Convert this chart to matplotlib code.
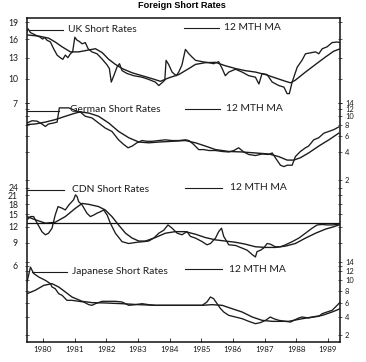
"""
Foreign short rates, 1980-1989: UK, German, Canadian and Japanese
short rates with their 12 month moving averages, stacked in one frame.
"""

import numpy as np
import matplotlib
matplotlib.use('Agg')
import matplotlib.pyplot as plt
from matplotlib.lines import Line2D

# ---------------- data ----------------
uk_x = [1980.00, 1980.03, 1980.11, 1980.26, 1980.42, 1980.49, 1980.56, 1980.63, 1980.74, 1980.84,
        1980.95, 1981.05, 1981.13, 1981.21, 1981.29, 1981.37, 1981.44, 1981.51, 1981.58, 1981.65,
        1981.74, 1981.84, 1981.93, 1982.05, 1982.21, 1982.37, 1982.53, 1982.60, 1982.66, 1982.74,
        1982.84, 1982.92, 1983.00, 1983.16, 1983.37, 1983.63, 1983.84, 1984.05, 1984.16, 1984.26,
        1984.35, 1984.39, 1984.47, 1984.58, 1984.71, 1984.79, 1984.89, 1985.00, 1985.11, 1985.21,
        1985.32, 1985.53, 1985.74, 1985.89, 1986.05, 1986.16, 1986.26, 1986.37, 1986.58, 1986.79,
        1987.00, 1987.21, 1987.32, 1987.42, 1987.58, 1987.74, 1987.95, 1988.11, 1988.21, 1988.28,
        1988.37, 1988.53, 1988.68, 1988.79, 1988.95, 1989.11, 1989.21, 1989.32, 1989.47, 1989.63,
        1989.79, 1989.89]
uk_rate = [17.3, 17.8, 17.1, 16.7, 16.3, 16.0, 16.25, 15.8, 15.5, 14.4,
           13.4, 13.0, 12.75, 13.4, 13.0, 13.6, 13.9, 16.3, 15.8, 15.6,
           15.2, 15.4, 14.4, 13.9, 13.6, 12.8, 11.9, 11.4, 9.55, 10.4,
           11.6, 12.1, 11.1, 10.7, 10.4, 10.2, 9.9, 9.55, 9.1, 9.45,
           9.8, 12.6, 12.0, 10.9, 10.4, 10.9, 11.9, 14.3, 13.6, 13.1,
           12.6, 12.4, 12.25, 12.1, 12.4, 11.4, 10.4, 10.9, 11.3, 10.9,
           10.4, 10.2, 9.3, 10.7, 10.55, 9.55, 9.1, 8.9, 8.1, 8.1,
           9.55, 11.6, 12.6, 13.6, 13.75, 13.9, 13.6, 14.4, 14.7, 15.4,
           15.5, 15.4]
uk_ma_x = [1980.00, 1980.37, 1980.68, 1980.89, 1981.11, 1981.37, 1981.63, 1981.95, 1982.16, 1982.37,
           1982.58, 1982.79, 1983.00, 1983.32, 1983.63, 1983.95, 1984.21, 1984.47, 1984.79, 1985.11,
           1985.32, 1985.63, 1985.95, 1986.26, 1986.58, 1986.89, 1987.21, 1987.53, 1987.84, 1988.16,
           1988.32, 1988.47, 1988.79, 1989.11, 1989.42, 1989.68, 1989.89]
uk_ma = [16.7, 16.5, 16.15, 15.5, 14.7, 13.9, 13.9, 14.2, 14.4, 13.8,
         12.75, 12.0, 11.4, 10.8, 10.4, 10.0, 9.65, 10.1, 10.55, 11.4,
         12.0, 12.25, 12.3, 11.8, 11.4, 11.1, 10.9, 10.55, 10.1, 9.65,
         9.45, 9.8, 10.9, 12.0, 13.1, 14.0, 14.4]

de_x = [1980.00, 1980.16, 1980.32, 1980.47, 1980.58, 1980.68, 1980.84, 1980.95, 1981.02, 1981.32,
        1981.58, 1981.68, 1981.84, 1982.05, 1982.26, 1982.47, 1982.68, 1982.89, 1983.05, 1983.19,
        1983.32, 1983.47, 1983.63, 1983.79, 1983.95, 1984.16, 1984.37, 1984.58, 1984.79, 1985.00,
        1985.11, 1985.26, 1985.42, 1985.58, 1985.74, 1985.95, 1986.16, 1986.37, 1986.53, 1986.68,
        1986.84, 1987.00, 1987.21, 1987.42, 1987.63, 1987.74, 1987.84, 1988.00, 1988.11, 1988.21,
        1988.37, 1988.47, 1988.63, 1988.79, 1988.89, 1989.05, 1989.21, 1989.37, 1989.53, 1989.68,
        1989.84]
de_rate = [8.4, 8.9, 8.8, 8.2, 7.7, 8.2, 8.4, 8.6, 12.3, 12.3,
           11.3, 11.1, 9.95, 9.55, 8.4, 7.4, 6.8, 5.5, 4.9, 4.5,
           4.7, 5.1, 5.4, 5.3, 5.3, 5.4, 5.5, 5.4, 5.4, 5.5,
           5.4, 4.9, 4.3, 4.3, 4.2, 4.2, 4.1, 4.05, 4.2, 4.5,
           4.05, 3.8, 3.7, 3.85, 3.8, 3.95, 3.5, 2.9, 2.8, 2.9,
           2.9, 3.6, 4.1, 4.5, 4.7, 5.5, 5.8, 6.5, 6.8, 7.1,
           7.6]
de_ma_x = [1980.00, 1980.26, 1980.58, 1980.89, 1981.21, 1981.53, 1981.68, 1981.95, 1982.26, 1982.58,
           1982.89, 1983.21, 1983.53, 1983.84, 1984.16, 1984.58, 1985.00, 1985.32, 1985.63, 1985.95,
           1986.37, 1986.79, 1987.21, 1987.63, 1987.95, 1988.21, 1988.42, 1988.63, 1988.89, 1989.21,
           1989.53, 1989.84]
de_ma = [8.07, 8.2, 8.6, 9.15, 9.95, 10.8, 11.1, 10.8, 9.95, 8.4,
         6.8, 5.8, 5.2, 5.1, 5.2, 5.3, 5.4, 5.1, 4.7, 4.3,
         4.1, 4.05, 3.95, 3.85, 3.6, 3.3, 3.3, 3.5, 3.95, 4.7,
         5.5, 6.5]

cdn_x = [1980.00, 1980.11, 1980.21, 1980.32, 1980.47, 1980.58, 1980.68, 1980.79, 1980.89, 1980.98,
         1981.11, 1981.21, 1981.32, 1981.47, 1981.53, 1981.58, 1981.63, 1981.74, 1981.89, 1982.00,
         1982.11, 1982.21, 1982.32, 1982.42, 1982.53, 1982.63, 1982.79, 1983.00, 1983.21, 1983.47,
         1983.68, 1983.84, 1984.00, 1984.16, 1984.32, 1984.45, 1984.58, 1984.74, 1984.89, 1985.05,
         1985.16, 1985.32, 1985.53, 1985.68, 1985.79, 1985.95, 1986.05, 1986.14, 1986.21, 1986.37,
         1986.58, 1986.79, 1986.95, 1987.11, 1987.21, 1987.26, 1987.37, 1987.47, 1987.58, 1987.68,
         1987.84, 1988.00, 1988.16, 1988.37, 1988.58, 1988.79, 1989.00, 1989.16, 1989.32, 1989.47,
         1989.63, 1989.79, 1989.89]
cdn_rate = [13.6, 14.4, 14.4, 12.8, 11.0, 10.4, 10.7, 11.7, 14.8, 17.2,
            16.7, 16.2, 17.7, 19.4, 21.2, 20.6, 18.8, 17.7, 15.3, 14.4,
            14.8, 15.3, 15.7, 16.2, 14.8, 12.8, 10.7, 9.2, 8.9, 9.1,
            9.2, 9.3, 9.8, 10.7, 11.3, 12.4, 11.7, 10.7, 10.4, 11.0,
            10.1, 9.8, 9.2, 8.7, 8.9, 9.8, 11.0, 11.7, 10.1, 8.7,
            8.6, 8.2, 7.9, 7.3, 7.0, 7.7, 7.9, 8.2, 8.9, 8.8,
            8.4, 8.4, 8.7, 9.2, 9.8, 10.7, 11.7, 12.4, 12.5, 12.4,
            12.4, 12.5, 12.8]
cdn_ma_x = [1980.00, 1980.26, 1980.58, 1980.89, 1981.21, 1981.53, 1981.74, 1981.95, 1982.26, 1982.47,
            1982.68, 1982.89, 1983.11, 1983.32, 1983.53, 1983.74, 1984.05, 1984.37, 1984.68, 1985.00,
            1985.32, 1985.63, 1985.95, 1986.26, 1986.58, 1986.89, 1987.21, 1987.53, 1987.84, 1988.16,
            1988.47, 1988.79, 1989.11, 1989.42, 1989.68, 1989.89]
cdn_ma = [14.4, 13.6, 12.8, 13.0, 14.4, 16.7, 18.2, 17.9, 17.2, 16.2,
          14.4, 12.4, 10.7, 9.8, 9.3, 9.3, 9.9, 10.7, 11.0, 11.0,
          10.5, 9.9, 9.5, 9.3, 9.1, 8.8, 8.4, 8.3, 8.3, 8.5,
          8.9, 9.8, 10.7, 11.5, 12.0, 12.5]
cdn_ref = 12.85  # the long horizontal rule across the CDN panel

jp_x = [1980.00, 1980.11, 1980.21, 1980.37, 1980.58, 1980.74, 1980.79, 1980.89, 1981.00, 1981.11,
        1981.26, 1981.42, 1981.63, 1981.79, 1981.95, 1982.05, 1982.16, 1982.37, 1982.58, 1982.79,
        1983.00, 1983.11, 1983.21, 1983.42, 1983.63, 1983.84, 1984.05, 1984.58, 1985.11, 1985.53,
        1985.68, 1985.79, 1985.89, 1986.00, 1986.11, 1986.21, 1986.37, 1986.58, 1986.79, 1987.00,
        1987.21, 1987.37, 1987.53, 1987.68, 1987.79, 1987.95, 1988.16, 1988.32, 1988.42, 1988.58,
        1988.68, 1988.89, 1989.05, 1989.21, 1989.32, 1989.47, 1989.63, 1989.79, 1989.89]
jp_rate = [9.64, 12.8, 11.4, 10.65, 9.97, 9.31, 8.68, 8.37, 7.47, 7.18,
           6.36, 6.36, 6.2, 6.09, 5.68, 5.58, 5.83, 6.2, 6.2, 6.2,
           6.09, 5.83, 5.58, 5.68, 5.83, 5.68, 5.58, 5.58, 5.58, 5.58,
           6.09, 6.9, 6.63, 5.83, 5.09, 4.62, 4.17, 3.96, 3.75, 3.43,
           3.16, 3.28, 3.55, 3.96, 3.75, 3.55, 3.43, 3.35, 3.55, 3.84,
           3.96, 3.84, 3.96, 4.05, 4.4, 4.62, 4.85, 5.58, 6.09]
jp_ma_x = [1980.00, 1980.26, 1980.53, 1980.79, 1981.00, 1981.21, 1981.42, 1981.74, 1982.05, 1982.47,
           1983.00, 1983.53, 1984.05, 1985.11, 1985.53, 1985.84, 1986.16, 1986.47, 1986.79, 1987.11,
           1987.42, 1987.74, 1988.26, 1988.58, 1989.00, 1989.32, 1989.63, 1989.89]
jp_ma = [7.47, 8.07, 8.99, 9.31, 8.68, 7.77, 6.9, 6.2, 5.99, 5.94,
         5.83, 5.68, 5.58, 5.58, 5.58, 5.68, 5.58, 5.09, 4.62, 3.96,
         3.55, 3.43, 3.43, 3.67, 3.96, 4.17, 4.62, 5.09]

years = list(range(1980, 1990))
uk_ticks = [19, 16, 13, 10, 7]
de_ticks = [14, 12, 10, 8, 6, 4, 2]
cdn_ticks = [24, 21, 18, 15, 12, 9, 6]
jp_ticks = [14, 12, 10, 8, 6, 4, 2]

# ---------------- layout (pixels of the 366x362 picture) ----------------
W, H = 366, 362
FL, FR, FT, FB = 27, 340, 18, 342
X0, X1 = 1980.0, 1989.88
INK = '#1c1c1c'

fig = plt.figure(figsize=(W / 100, H / 100), dpi=100)
fig.patch.set_facecolor('white')


def rect(top, bottom):
    return [FL / W, 1 - bottom / H, (FR - FL) / W, (bottom - top) / H]


# outer frame with the year axis
frame = fig.add_axes(rect(FT, FB))
frame.set_xlim(X0, X1)
frame.set_xticks([y + 0.5 for y in years], labels=[str(y) for y in years])
frame.set_yticks([])
frame.tick_params(axis='x', direction='in', length=3, width=0.6, labelsize=5.8, pad=3, colors=INK)
for s in frame.spines.values():
    s.set_linewidth(1.1)
    s.set_color('#111111')
for t in frame.get_xticklabels():
    t.set_family('Lato')


def panel(top, bottom, scale, ylim, ticks, side, x, y, ma_x, ma_y):
    ax = fig.add_axes(rect(top, bottom))
    ax.patch.set_alpha(0)
    for s in ax.spines.values():
        s.set_visible(False)
    if scale == 'sqrt':
        ax.set_yscale('function', functions=(np.sqrt, np.square))
    else:
        ax.set_yscale('log')
    ax.plot(x, y, color=INK, lw=0.95, solid_joinstyle='round')
    ax.plot(ma_x, ma_y, color=INK, lw=1.0, solid_joinstyle='round')
    ax.set_xlim(X0, X1)
    ax.set_ylim(min(ylim), max(ylim))
    ax.set_xticks([])
    ax.set_yticks(ticks, labels=[str(t) for t in ticks])
    ax.minorticks_off()
    ax.tick_params(axis='y', left=True, right=True, direction='inout', length=3, width=0.5,
                   labelleft=(side == 'left'), labelright=(side == 'right'),
                   labelsize=6.2 if side == 'left' else 5.4, pad=5 if side == 'left' else 2,
                   colors=INK)
    for t in ax.get_yticklabels():
        t.set_family('Lato')
    return ax


panel(FT, 105, 'sqrt', (19.75, 6.79), uk_ticks, 'left', uk_x, uk_rate, uk_ma_x, uk_ma)
panel(100, 182, 'log', (15.0, 1.90), de_ticks, 'right', de_x, de_rate, de_ma_x, de_ma)
cdn = panel(183, 268, 'log', (26.2, 5.75), cdn_ticks, 'left', cdn_x, cdn_rate, cdn_ma_x, cdn_ma)
cdn.axhline(cdn_ref, color='#111111', lw=0.9)
panel(258, FB, 'sqrt', (14.97, 1.426), jp_ticks, 'right', jp_x, jp_rate, jp_ma_x, jp_ma)

# in-chart legend labels: (line x0, line x1, line y, text x, text y, text)
legend_items = [
    (29, 63, 29.5, 68.5, 29.5, 'UK Short Rates'),
    (184, 219, 28, 224, 28, '12 MTH MA'),
    (27, 59, 110.5, 70, 109.5, 'German Short Rates'),
    (185, 220, 108.5, 226.5, 108.5, '12 MTH MA'),
    (27, 64, 190, 72, 190, 'CDN Short Rates'),
    (185, 222, 188, 230, 188, '12 MTH MA'),
    (32, 67, 272, 72, 272, 'Japanese Short Rates'),
    (185, 222, 269, 229, 269, '12 MTH MA'),
]
for lx0, lx1, ly, tx, ty, label in legend_items:
    fig.add_artist(Line2D([lx0 / W, lx1 / W], [1 - ly / H, 1 - ly / H],
                          transform=fig.transFigure, color=INK, lw=0.8))
    fig.text(tx / W, 1 - ty / H, label, ha='left', va='center', fontsize=7.4,
             family='Lato', color=INK)

fig.text(182 / W, 1 - 5 / H, 'Foreign Short Rates', ha='center', va='center',
         fontsize=6.6, fontweight='bold', family='Liberation Sans')

fig.savefig('out.png', dpi=100, facecolor='white')
plt.close(fig)
